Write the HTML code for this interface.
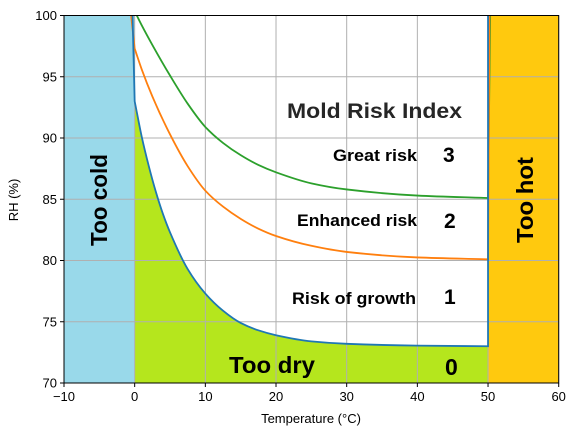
<!DOCTYPE html>
<html><head><meta charset="utf-8"><style>
html,body{margin:0;padding:0;background:#fff}
svg{display:block;font-family:"Liberation Sans",sans-serif}
</style></head><body>
<svg id="chart" width="576" height="433"></svg>
<script>
const blueT=[0,1,2,3,4,5,7.5,10,12.5,15,17.5,20,25,30,40,50];
const blueRH=[93,90.1,87.7,85.6,83.8,82.3,79.3,77.3,75.9,74.9,74.3,73.9,73.4,73.2,73.05,73.0];
const orangeT=[0,1,2.5,5,7.5,10,12.5,15,17.5,20,25,30,40,50];
const orangeRH=[97.3,95.6,93.4,90.3,87.7,85.7,84.4,83.4,82.6,82,81.2,80.7,80.25,80.1];
const greenT=[0.3,1,2.5,5,7.5,10,12.5,15,17.5,20,25,30,40,50];
const greenRH=[100,99.2,97.6,95.1,92.8,90.9,89.6,88.6,87.8,87.2,86.3,85.8,85.3,85.1];
const xTicks=[-10,0,10,20,30,40,50,60];
const yTicks=[70,75,80,85,90,95,100];

const L=64,R=558.7,T=15.5,B=383;
const xs=v=>L+(v+10)/70*(R-L);
const ys=v=>B-(v-70)/30*(B-T);
const NS="http://www.w3.org/2000/svg";
const svg=document.getElementById('chart');
function mk(tag,attrs,parent){const e=document.createElementNS(NS,tag);for(const k in attrs)e.setAttribute(k,attrs[k]);(parent||svg).appendChild(e);return e;}
function txt(s,attrs,name){const e=mk('text',attrs);e.textContent=s;return e;}
// monotone cubic (Fritsch-Carlson) through pixel points
function smooth(pts){const n=pts.length;if(n<2)return '';
 const dx=[],sl=[];for(let i=0;i<n-1;i++){dx[i]=pts[i+1][0]-pts[i][0];sl[i]=(pts[i+1][1]-pts[i][1])/dx[i];}
 const m=[sl[0]];for(let i=1;i<n-1;i++){m[i]=(sl[i-1]*sl[i]<=0)?0:(dx[i-1]+dx[i])*3/((2*dx[i]+dx[i-1])/sl[i-1]+(dx[i]+2*dx[i-1])/sl[i]);}
 m[n-1]=sl[n-2];let d='';
 for(let i=0;i<n-1;i++){const h=dx[i]/3;
  d+=' C'+(pts[i][0]+h)+','+(pts[i][1]+m[i]*h)+' '+(pts[i+1][0]-h)+','+(pts[i+1][1]-m[i+1]*h)+' '+pts[i+1][0]+','+pts[i+1][1];}
 return d;}
const bluePts=blueT.map((t,i)=>[xs(t),ys(blueRH[i])]);
const orangePts=orangeT.map((t,i)=>[xs(t),ys(orangeRH[i])]);
const greenPts=greenT.map((t,i)=>[xs(t),ys(greenRH[i])]);

// fills
let r=mk('rect',{x:xs(-10),y:T,width:xs(0)-xs(-10),height:B-T,fill:'#99d9ea'});


r=mk('rect',{x:xs(50),y:T,width:R-xs(50),height:B-T,fill:'#ffc90e'});


let d='M'+xs(0)+','+B+' L'+bluePts[0][0]+','+bluePts[0][1]+smooth(bluePts)+' L'+xs(50)+','+B+' Z';
let p=mk('path',{d:d,fill:'#b5e61d'});



// grid
xTicks.forEach(v=>{const l=mk('line',{x1:xs(v),x2:xs(v),y1:T,y2:B,stroke:'#b0b0b0','stroke-width':1});

});
yTicks.forEach(v=>{const l=mk('line',{x1:L,x2:R,y1:ys(v),y2:ys(v),stroke:'#b0b0b0','stroke-width':1});

});

// lines
function line(pts,pre,post,col,name){
 let dd='M'+(pre?pre:pts[0]).join(',');
 if(pre)dd+=' L'+pts[0].join(',');
 dd+=smooth(pts);
 post.forEach(q=>dd+=' L'+q.join(','));
 const e=mk('path',{d:dd,fill:'none',stroke:col,'stroke-width':1.8});
 
 }
line(greenPts,null,[[xs(50),greenPts[greenPts.length-1][1]],[xs(50.3),ys(100)]],'#2ca02c','great-risk-line');
line(orangePts,[xs(-0.5),ys(100)],[[xs(50.2),ys(100)]],'#ff7f0e','enhanced-risk-line');
line(bluePts,[xs(-0.3),ys(100)],[[xs(50),ys(100)]],'#1f77b4','growth-threshold-line');

// axes frame
r=mk('rect',{x:L,y:T,width:R-L,height:B-T,fill:'none',stroke:'#000','stroke-width':1});


xTicks.forEach(v=>{mk('line',{x1:xs(v),x2:xs(v),y1:B,y2:B+4,stroke:'#000'});
txt(String(v).replace('-','−'),{x:xs(v),y:B+18,'font-size':13,'text-anchor':'middle'},'x-tick-label');});
yTicks.forEach(v=>{mk('line',{x1:L-4,x2:L,y1:ys(v),y2:ys(v),stroke:'#000'});
txt(String(v),{x:L-7,y:ys(v)+4.5,'font-size':13,'text-anchor':'end'},'y-tick-label');});
txt('Temperature (°C)',{x:311,y:423,'font-size':13,'text-anchor':'middle'},'x-axis-title');
txt('RH (%)',{x:18,y:200,'font-size':13,'text-anchor':'middle',transform:'rotate(-90 18 200)'},'y-axis-title');

// annotations
const b={'font-weight':'bold',fill:'#000'};
function bt(s,x,y,size,name,len,extra){const a=Object.assign({x:x,y:y,'font-size':size},b,extra||{});if(len){a.textLength=len;a.lengthAdjust='spacingAndGlyphs';}return txt(s,a,name);}
bt('Mold Risk Index',287,118,21,'mold-risk-index-title',175,{fill:'#262626'});
bt('Great risk',333,161,17,'great-risk-label',84);
bt('3',443,162,21,'level-3-label');
bt('Enhanced risk',297,226,17,'enhanced-risk-label',120);
bt('2',444,228,21,'level-2-label');
bt('Risk of growth',292,304,17,'risk-of-growth-label',124);
bt('1',444,304,21,'level-1-label');
bt('Too dry',229,373,23,'too-dry-label',86);
bt('0',445,375,23,'level-0-label');
bt('Too cold',107,200,23,'too-cold-label',92,{'text-anchor':'middle',transform:'rotate(-90 107 200)'});
bt('Too hot',533,200,23,'too-hot-label',86,{'text-anchor':'middle',transform:'rotate(-90 533 200)'});
</script>
</body></html>
